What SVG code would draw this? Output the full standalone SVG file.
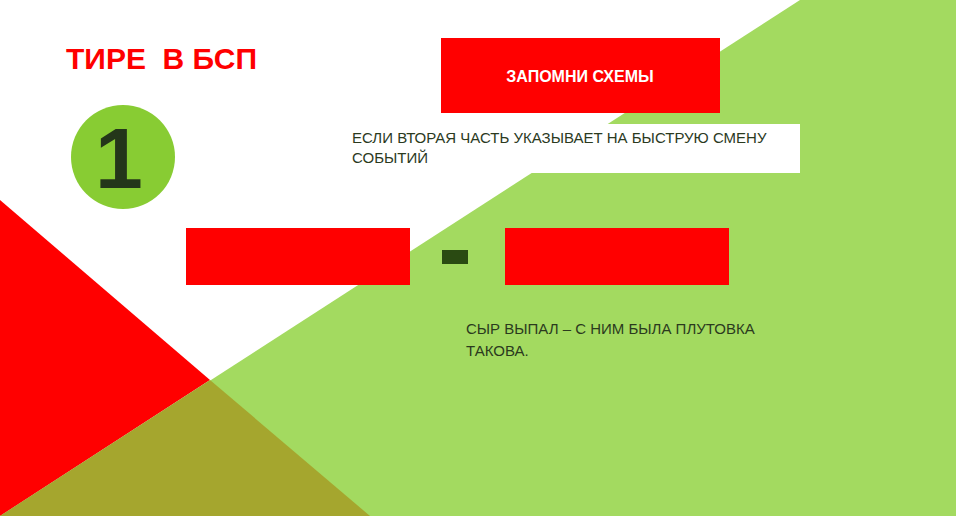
<svg xmlns="http://www.w3.org/2000/svg" width="956" height="516" viewBox="0 0 956 516">
<style>
.t{font-family:"Liberation Sans",Arial,sans-serif;fill:#2b3a1e;font-size:15px}
.r{fill:#ff0000}
</style>
<rect width="956" height="516" fill="#ffffff"/>
<polygon points="800,0 956,0 956,516 0,516" fill="#a3da60"/>
<polygon points="0,200 210,380 0,516" fill="#ff0000"/>
<polygon points="210,380 370,516 0,516" fill="#a5a62e"/>
<g id="title"><text x="66" y="69" font-family="Liberation Sans,Arial,sans-serif" font-weight="bold" font-size="30" fill="#ff0000" xml:space="preserve">ТИРЕ  В БСП</text></g>
<g id="badge"><circle cx="123" cy="157" r="52" fill="#88cc33"/><text x="119" y="188" text-anchor="middle" font-family="Liberation Sans,Arial,sans-serif" font-weight="bold" font-size="86" fill="#24361a">1</text></g>
<g id="header"><rect class="r" x="441" y="38" width="279" height="75"/><text x="580" y="82" text-anchor="middle" font-family="Liberation Sans,Arial,sans-serif" font-weight="bold" font-size="16" fill="#fff">ЗАПОМНИ СХЕМЫ</text></g>
<g id="rule"><rect x="333" y="124" width="467" height="49" fill="#fff"/><text class="t" x="352" y="143">ЕСЛИ ВТОРАЯ ЧАСТЬ УКАЗЫВАЕТ НА БЫСТРУЮ СМЕНУ</text><text class="t" x="352" y="163">СОБЫТИЙ</text></g>
<g id="part1"><rect class="r" x="186" y="228" width="224" height="57"/></g>
<g id="part2"><rect class="r" x="505" y="228" width="224" height="57"/></g>
<g id="connectors"><rect x="442" y="250" width="26" height="14" fill="#2a4a12"/></g>
<g id="example"><text class="t" x="466" y="334">СЫР ВЫПАЛ – С НИМ БЫЛА ПЛУТОВКА</text><text class="t" x="466" y="356">ТАКОВА.</text></g>
</svg>
